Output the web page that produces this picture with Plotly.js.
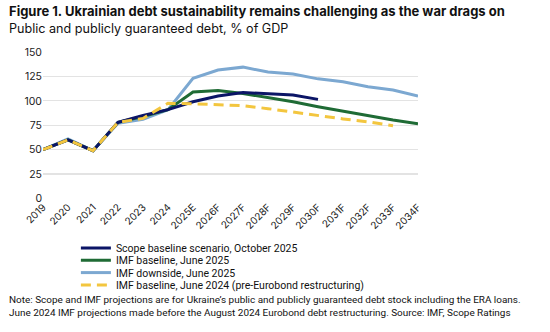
<!DOCTYPE html>
<html><head><meta charset="utf-8">
<script src="https://cdn.plot.ly/plotly-3.0.1.min.js"></script>
<style>html,body{margin:0;padding:0;background:#fff}#c{width:550px;height:332px}</style>
</head><body><div id="c"></div>
<script>
const years = ["2019","2020","2021","2022","2023","2024","2025E","2026F","2027F","2028F","2029F","2030F","2031F","2032F","2033F","2034F"];
const scopeBaseline = [50,60,49,78,85,91,99,105,108.5,107.5,106,101.5,null,null,null,null];
const imfBaseline2025 = [50,60,49,78,84,91,109,110.5,107.5,103.5,99,94,89.5,84.7,80.3,76.5];
const imfDownside2025 = [50,61,49,77,81,91,123,131.5,134.5,129.5,127.5,122.5,119.5,114.5,111,105];
const imfBaseline2024 = [50,60,49,78,82,97.5,97,96,95,92,88.5,84.5,81.5,78.5,74.5,null];
const seriesNames = ["Scope baseline scenario, October 2025","IMF baseline, June 2025","IMF downside, June 2025","IMF baseline, June 2024 (pre-Eurobond restructuring)"];
const yTicks = [0,25,50,75,100,125,150];

const F = "Inter, 'Liberation Sans', Arial, sans-serif";
const NF = "Roboto, 'Liberation Sans', Arial, sans-serif";
const legendIds = ["legend","legend2","legend3","legend4"];
const traces = [
  {x:years,y:scopeBaseline,name:seriesNames[0],legend:legendIds[0],mode:"lines",line:{color:"#0b1566",width:3},connectgaps:false},
  {x:years,y:imfBaseline2025,name:seriesNames[1],legend:legendIds[1],mode:"lines",line:{color:"#1f6b35",width:3}},
  {x:years,y:imfDownside2025,name:seriesNames[2],legend:legendIds[2],mode:"lines",line:{color:"#7ca8d1",width:3}},
  {x:years,y:imfBaseline2024,name:seriesNames[3],legend:legendIds[3],mode:"lines",line:{color:"#f3c63f",width:3,dash:"10px,6px"}}
];
const order = [2,1,0,3];
const data = order.map(i=>traces[i]);
const legendY = [0.295,0.2507,0.2065,0.1619];
const layout = {
  width:550,height:332,
  margin:{l:43,r:132,t:52,b:2},
  paper_bgcolor:"#fff",plot_bgcolor:"#fff",
  showlegend:true,
  xaxis:{type:"category",categoryorder:"array",categoryarray:years,tickangle:-45,automargin:false,
    tickfont:{family:F,size:10,color:"#222"},showgrid:false,zeroline:false,showline:false,ticks:"",ticklen:0},
  yaxis:{domain:[0.473,1],range:[0,150],tickvals:yTicks,ticktext:yTicks.map(String),showgrid:true,gridcolor:"#e3e3e3",gridwidth:1.3,automargin:false,
    zeroline:false,showline:false,ticks:"",tickfont:{family:F,size:10.5,color:"#222"}},
  annotations:[
    {xref:"paper",yref:"paper",x:-0.096,y:1.0,xanchor:"left",yanchor:"bottom",yshift:31,showarrow:false,
     text:"<b>Figure 1. Ukrainian debt sustainability remains challenging as the war drags on</b>",font:{family:F,size:13,color:"#111"}},
    {xref:"paper",yref:"paper",x:-0.096,y:1.0,xanchor:"left",yanchor:"bottom",yshift:14,showarrow:false,
     text:"Public and publicly guaranteed debt, % of GDP",font:{family:F,size:12.6,color:"#111"}},
    {xref:"paper",yref:"paper",x:-0.096,y:0,xanchor:"left",yanchor:"bottom",yshift:10,showarrow:false,align:"left",
     text:"Note: Scope and IMF projections are for Ukraine’s public and publicly guaranteed debt stock including the ERA loans.<br>June 2024 IMF projections made before the August 2024 Eurobond debt restructuring. Source: IMF, Scope Ratings",
     font:{family:NF,size:9.95,color:"#111"}}
  ]
};
legendIds.forEach((id,i)=>{
  layout[id] = {x:0.0877,xanchor:"left",y:legendY[i],yanchor:"middle",
    font:{family:NF,size:10.5,color:"#111"},itemwidth:30,bgcolor:"rgba(0,0,0,0)",borderwidth:0};
});
Plotly.newPlot("c",data,layout,{staticPlot:true,displayModeBar:false});
</script></body></html>
